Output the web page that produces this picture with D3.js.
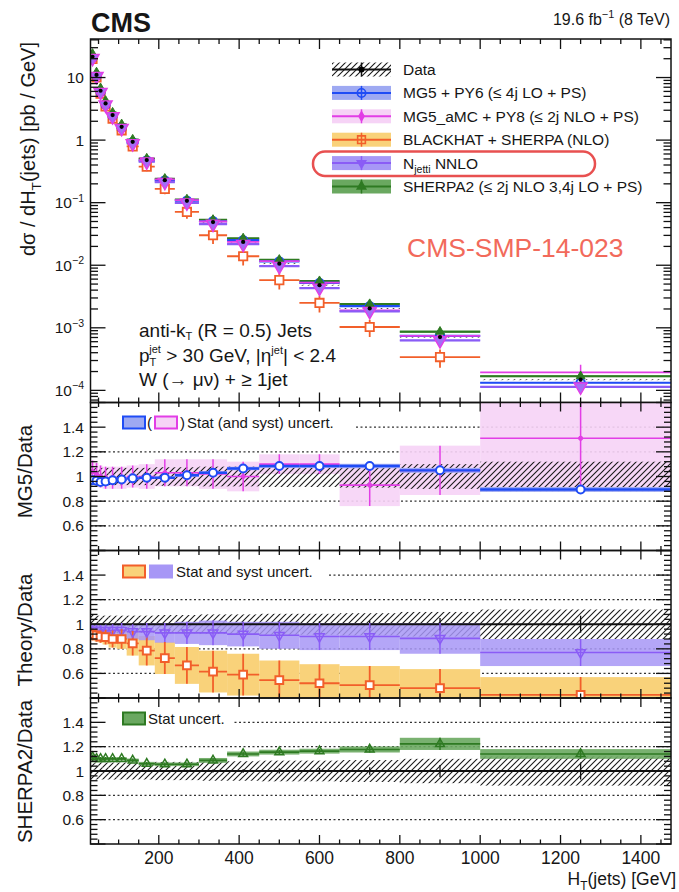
<!DOCTYPE html>
<html>
<head>
<meta charset="utf-8">
<script src="https://cdn.jsdelivr.net/npm/d3@7"></script>
<style>
  body { margin: 0; background: #fff; }
  svg text { font-family: "Liberation Sans", Arial, Helvetica, sans-serif; fill: #161616; }
</style>
</head>
<body>
<svg id="chart" width="679" height="892"></svg>
<script>
// ---- W(->mu nu) + >=1 jet, differential cross section in HT(jets) ----
const binEdges = [30, 40, 50, 60, 75, 95, 120, 150, 190, 240, 300, 370, 450, 550, 650, 800, 1000, 1500];

// measured cross section [pb/GeV] and relative uncertainties
const dataXsec = [21.5, 11.0, 6.15, 3.86, 2.51, 1.63, 0.94, 0.48, 0.229, 0.107, 0.049, 0.0236, 0.0106, 0.0048, 0.00204, 0.00071, 0.000148];
const dataStat = [0.003, 0.003, 0.003, 0.004, 0.004, 0.005, 0.006, 0.007, 0.008, 0.01, 0.012, 0.015, 0.02, 0.025, 0.03, 0.05, 0.07];
const dataSyst = [0.075, 0.07, 0.07, 0.07, 0.07, 0.07, 0.07, 0.07, 0.075, 0.075, 0.08, 0.08, 0.085, 0.085, 0.09, 0.1, 0.12];

// theory / data ratios and their uncertainty half-widths
const mg5Ratio = [0.97, 0.965, 0.955, 0.96, 0.97, 0.975, 0.985, 0.99, 0.99, 1.01, 1.03, 1.065, 1.085, 1.085, 1.085, 1.05, 0.895];
const mg5Unc = [0.01, 0.01, 0.01, 0.01, 0.01, 0.01, 0.01, 0.01, 0.01, 0.012, 0.012, 0.014, 0.015, 0.016, 0.018, 0.02, 0.02];

const amcRatio = [1.04, 1.02, 1.0, 0.99, 0.99, 0.99, 1.0, 1.0, 1.03, 1.03, 1.02, 1.0, 1.1, 1.1, 0.93, 1.05, 1.31];
const amcUnc = [0.09, 0.09, 0.09, 0.09, 0.09, 0.09, 0.09, 0.1, 0.11, 0.11, 0.12, 0.12, 0.08, 0.08, 0.17, 0.2, 0.42];

const blackhatRatio = [0.92, 0.91, 0.9, 0.895, 0.88, 0.88, 0.845, 0.785, 0.725, 0.665, 0.615, 0.59, 0.545, 0.52, 0.505, 0.48, 0.425];
const blackhatUnc = [0.05, 0.05, 0.05, 0.06, 0.07, 0.08, 0.1, 0.12, 0.13, 0.15, 0.17, 0.17, 0.16, 0.155, 0.155, 0.155, 0.145];

const njettiRatio = [0.95, 0.95, 0.95, 0.95, 0.95, 0.95, 0.94, 0.94, 0.93, 0.93, 0.93, 0.92, 0.91, 0.9, 0.9, 0.885, 0.77];
const njettiUnc = [0.05, 0.05, 0.05, 0.05, 0.05, 0.06, 0.06, 0.07, 0.08, 0.09, 0.1, 0.1, 0.11, 0.11, 0.11, 0.125, 0.11];

const sherpaRatio = [1.115, 1.1, 1.1, 1.1, 1.1, 1.1, 1.087, 1.06, 1.055, 1.055, 1.087, 1.14, 1.155, 1.163, 1.177, 1.223, 1.14];
const sherpaUnc = [0.02, 0.015, 0.015, 0.015, 0.015, 0.015, 0.015, 0.015, 0.015, 0.015, 0.02, 0.02, 0.02, 0.02, 0.025, 0.05, 0.04];

// axis ticks and labels
const xTickValues = [200, 400, 600, 800, 1000, 1200, 1400];
const mainTickValues = [10, 1, 0.1, 0.01, 0.001, 0.0001];
const mainTickLabels = ["10", "1", "10^{\u22121}", "10^{\u22122}", "10^{\u22123}", "10^{\u22124}"];
const ratioTickValues = [0.6, 0.8, 1, 1.2, 1.4];
const ratioTickLabels = ["0.6", "0.8", "1", "1.2", "1.4"];
const legendLabels = ["Data", "MG5 + PY6 (\u2264 4j LO + PS)", "MG5_aMC + PY8 (\u2264 2j NLO + PS)",
  "BLACKHAT + SHERPA (NLO)", "N_{jetti} NNLO", "SHERPA2 (\u2264 2j NLO 3,4j LO + PS)"];
const ratioTitles = ["MG5/Data", "Theory/Data", "SHERPA2/Data"];

// ---- styles ----
const C = {
  blue: "#1f4cf5", blueBand: "#9ea9f2",
  mag: "#e23ee6", pinkBand: "#f6d3f6",
  orange: "#f25f2a", yellow: "#f9d27a",
  purple: "#8a5cf6", purpleBand: "#a797f6",
  green: "#2e7a22", greenBand: "#6aa860",
  red: "#e85050", grid: "#333"
};

const svg = d3.select("#chart");
const defs = svg.append("defs");
const hatch = defs.append("pattern").attr("id", "hatch").attr("patternUnits", "userSpaceOnUse")
  .attr("width", 6).attr("height", 6);
hatch.append("path").attr("d", "M-1,1 L1,-1 M0,6 L6,0 M5,7 L7,5")
  .attr("stroke", "#1a1a1a").attr("stroke-width", 1.1);

// ---- layout ----
const L = 90.5, R = 671;
const panels = [
  { top: 39, bottom: 402.5 },
  { top: 402.5, bottom: 550.5 },
  { top: 550.5, bottom: 698 },
  { top: 698, bottom: 844 }
];
const x = d3.scaleLinear().domain([30, 1475]).range([L, R]);
const yMain = d3.scaleLog().domain([6.4e-5, 41.3]).range([panels[0].bottom, panels[0].top]);
const yRatio = panels.slice(1).map(p => d3.scaleLinear().domain([0.4, 1.6]).range([p.bottom, p.top]));

const bins = binEdges.slice(0, -1).map((lo, i) => ({ lo, hi: binEdges[i + 1], c: (lo + binEdges[i + 1]) / 2, i }));
const ones = bins.map(() => 1);

panels.forEach((p, k) => {
  defs.append("clipPath").attr("id", "clip" + k).append("rect")
    .attr("x", L).attr("y", p.top).attr("width", R - L).attr("height", p.bottom - p.top);
});

// text with _{sub} and ^{sup} markup
function rich(sel, s, fs) {
  const re = /([_^])\{([^}]*)\}/g;
  const parts = [];
  let last = 0, m;
  while ((m = re.exec(s))) {
    if (m.index > last) parts.push({ t: s.slice(last, m.index), k: 0 });
    parts.push({ t: m[2], k: m[1] === "_" ? 1 : -1 });
    last = re.lastIndex;
  }
  if (last < s.length) parts.push({ t: s.slice(last), k: 0 });
  let shift = 0;
  parts.forEach(p => {
    const target = p.k === 0 ? 0 : (p.k === 1 ? 0.3 * fs : -0.42 * fs);
    const ts = sel.append("tspan").text(p.t).attr("dy", target - shift);
    if (p.k) ts.attr("font-size", fs * 0.68);
    shift = target;
  });
  return sel;
}
function label(g, xp, yp, s, fs, opts = {}) {
  const t = g.append("text").attr("x", xp).attr("y", yp).attr("font-size", fs)
    .attr("text-anchor", opts.anchor || "start");
  if (opts.weight) t.attr("font-weight", opts.weight);
  if (opts.fill) t.style("fill", opts.fill);
  if (opts.rotate) t.attr("transform", `rotate(${opts.rotate},${xp},${yp})`);
  return rich(t, s, fs);
}

// ---- drawing primitives ----
function rows(norm, ratio, unc) {
  return bins.map((b, i) => ({
    b, v: norm[i] * ratio[i],
    lo: norm[i] * Math.max(ratio[i] - unc[i], 1e-3),
    hi: norm[i] * (ratio[i] + unc[i])
  }));
}
// points whose central value lies outside the axis range are not drawn
function inRange(y, rs) {
  const [a, b] = d3.extent(y.domain());
  return rs.filter(d => d.v >= a && d.v <= b);
}
function band(g, y, rs, fill, opacity = 1) {
  g.append("g").selectAll("rect").data(rs).join("rect")
    .attr("x", d => x(d.b.lo)).attr("width", d => x(d.b.hi) - x(d.b.lo))
    .attr("y", d => y(d.hi)).attr("height", d => Math.max(0.8, y(d.lo) - y(d.hi)))
    .attr("fill", fill).attr("fill-opacity", opacity);
}
function hlines(g, y, rs, color, w) {
  g.append("g").selectAll("line").data(inRange(y, rs)).join("line")
    .attr("x1", d => x(d.b.lo)).attr("x2", d => x(d.b.hi))
    .attr("y1", d => y(d.v)).attr("y2", d => y(d.v))
    .attr("stroke", color).attr("stroke-width", w);
}
function vbars(g, y, rs, color, w) {
  g.append("g").selectAll("line").data(inRange(y, rs)).join("line")
    .attr("x1", d => x(d.b.c)).attr("x2", d => x(d.b.c))
    .attr("y1", d => y(d.lo)).attr("y2", d => y(d.hi))
    .attr("stroke", color).attr("stroke-width", w);
}
function markers(g, y, rs, type, size, fill, stroke, sw, rot = 0) {
  const sym = d3.symbol().type(type).size(size);
  g.append("g").selectAll("path").data(inRange(y, rs)).join("path")
    .attr("d", sym)
    .attr("transform", d => `translate(${x(d.b.c)},${y(d.v)}) rotate(${rot})`)
    .attr("fill", fill).attr("stroke", stroke).attr("stroke-width", sw);
}

// ---- ROOT-style frame and ticks ----
function xTicks(g, p, major, minor) {
  d3.range(50, 1475, 50).forEach(v => {
    const len = v % 200 === 0 ? major : minor;
    g.append("line").attr("x1", x(v)).attr("x2", x(v)).attr("y1", p.bottom).attr("y2", p.bottom - len);
    g.append("line").attr("x1", x(v)).attr("x2", x(v)).attr("y1", p.top).attr("y2", p.top + len);
  });
  g.selectAll("line").attr("stroke", "#111").attr("stroke-width", 1.3);
}
function yTicksAt(g, vals, y, majorTest, major, minor) {
  vals.forEach(v => {
    const len = majorTest(v) ? major : minor;
    const yy = y(v);
    g.append("line").attr("x1", L).attr("x2", L + len).attr("y1", yy).attr("y2", yy);
    g.append("line").attr("x1", R).attr("x2", R - len).attr("y1", yy).attr("y2", yy);
  });
  g.selectAll("line").attr("stroke", "#111").attr("stroke-width", 1.3);
}

// ========== main panel ==========
const main = svg.append("g");
const mc = main.append("g").attr("clip-path", "url(#clip0)");
const rData = rows(dataXsec, ones, dataSyst);
const rDataStat = rows(dataXsec, ones, dataStat);
const rMg5 = rows(dataXsec, mg5Ratio, mg5Unc);
const rAmc = rows(dataXsec, amcRatio, amcUnc);
const rBh = rows(dataXsec, blackhatRatio, blackhatUnc);
const rNj = rows(dataXsec, njettiRatio, njettiUnc);
const rSh = rows(dataXsec, sherpaRatio, sherpaUnc);

band(mc, yMain, rSh, C.greenBand);
band(mc, yMain, rAmc.map(d => ({ ...d, lo: d.v * 0.985, hi: d.v * 1.015 })), C.pinkBand);
band(mc, yMain, rMg5, C.blueBand);
band(mc, yMain, rNj.map(d => ({ ...d, lo: d.v * 0.975, hi: d.v * 1.025 })), C.purpleBand);
band(mc, yMain, rData.map(d => ({ ...d, lo: d.v * 0.985, hi: d.v * 1.015 })), "url(#hatch)");
hlines(mc, yMain, rSh, C.green, 2);
hlines(mc, yMain, rMg5, C.blue, 2.2);
hlines(mc, yMain, rAmc, C.mag, 1.8);
hlines(mc, yMain, rNj, C.purple, 2.2);
hlines(mc, yMain, rBh, C.orange, 1.8);
vbars(mc, yMain, rBh, C.orange, 1.8);
vbars(mc, yMain, rAmc, C.mag, 1.5);
vbars(mc, yMain, rNj, C.purple, 1.5);
vbars(mc, yMain, rSh, C.green, 1.5);
markers(mc, yMain, rBh, d3.symbolSquare, 70, "#fff", C.orange, 1.8);
markers(mc, yMain, rMg5, d3.symbolCircle, 55, "none", C.blue, 2);
markers(mc, yMain, rSh, d3.symbolTriangle, 34, C.green, C.green, 1);
markers(mc, yMain, rNj, d3.symbolTriangle, 75, "#a46cf6", C.mag, 1.4, 180);
markers(mc, yMain, rDataStat, d3.symbolCircle, 14, "#000", "#000", 0);

// legend
const legX0 = 332, legX1 = 391, legY0 = 69.5, legDy = 23.4;
const legStyles = [
  { fill: "url(#hatch)", line: "#111", mk: d3.symbolCircle, ms: 16, mf: "#000", mst: "#000", rot: 0 },
  { fill: C.blueBand, line: C.blue, mk: d3.symbolCircle, ms: 55, mf: "none", mst: C.blue, rot: 0 },
  { fill: C.pinkBand, line: C.mag, mk: d3.symbolDiamond, ms: 22, mf: C.mag, mst: C.mag, rot: 0 },
  { fill: C.yellow, line: C.orange, mk: d3.symbolSquare, ms: 60, mf: "none", mst: C.orange, rot: 0 },
  { fill: C.purpleBand, line: C.purple, mk: d3.symbolTriangle, ms: 30, mf: C.purple, mst: C.purple, rot: 180 },
  { fill: C.greenBand, line: C.green, mk: d3.symbolTriangle, ms: 30, mf: C.green, mst: C.green, rot: 0 }
];
const leg = main.append("g");
legendLabels.forEach((lab, i) => {
  const yy = legY0 + i * legDy, st = legStyles[i];
  const xc = (legX0 + legX1) / 2;
  leg.append("rect").attr("x", legX0).attr("y", yy - 7).attr("width", legX1 - legX0).attr("height", 14)
    .attr("fill", st.fill);
  leg.append("line").attr("x1", legX0).attr("x2", legX1).attr("y1", yy).attr("y2", yy)
    .attr("stroke", st.line).attr("stroke-width", 2);
  leg.append("line").attr("x1", xc).attr("x2", xc).attr("y1", yy - 7).attr("y2", yy + 7)
    .attr("stroke", st.line).attr("stroke-width", 1.5);
  leg.append("path").attr("d", d3.symbol().type(st.mk).size(st.ms)())
    .attr("transform", `translate(${xc},${yy}) rotate(${st.rot})`)
    .attr("fill", st.mf).attr("stroke", st.mst).attr("stroke-width", 1.6);
  label(leg, 403, yy + 5.5, lab, 15.5);
});
// highlight ring around the N_jetti entry
leg.append("rect").attr("x", 313).attr("y", 151.5).attr("width", 282).attr("height", 24.5)
  .attr("rx", 12).attr("fill", "none").attr("stroke", C.red).attr("stroke-width", 2.5);

label(main, 407, 257, "CMS-SMP-14-023", 26.5, { fill: "#f26a5b" });

// jet selection summary
{
  const fs = 19;
  const t1 = main.append("text").attr("x", 139).attr("y", 336.5).attr("font-size", fs);
  t1.append("tspan").text("anti-k");
  t1.append("tspan").text("T").attr("font-size", 11).attr("dy", 3);
  t1.append("tspan").text(" (R = 0.5) Jets").attr("dy", -3);

  const t2 = main.append("text").attr("x", 139).attr("y", 361.5).attr("font-size", fs);
  t2.append("tspan").text("p");
  t2.append("tspan").text("T").attr("font-size", 11).attr("dy", 4);
  t2.append("tspan").text("jet").attr("font-size", 11).attr("dx", -7).attr("dy", -12.5);
  t2.append("tspan").text(" > 30 GeV, |\u03b7").attr("dy", 8.5);
  t2.append("tspan").text("jet").attr("font-size", 11).attr("dy", -7.5);
  t2.append("tspan").text("| < 2.4").attr("dy", 7.5);

  label(main, 139, 385.5, "W (\u2192 \u03bc\u03bd) + \u2265 1jet", fs);
}

// main axes
xTicks(main.append("g"), panels[0], 10, 5);
const logVals = [];
for (let k = -5; k <= 1; k++) for (let m = 1; m <= 9; m++) {
  const v = m * Math.pow(10, k);
  if (v >= yMain.domain()[0] && v <= yMain.domain()[1]) logVals.push(v);
}
yTicksAt(main.append("g"), logVals, yMain, v => Math.abs(Math.log10(v) - Math.round(Math.log10(v))) < 1e-9, 15, 7.5);
mainTickValues.forEach((v, i) => label(main, 84, yMain(v) + 5.5, mainTickLabels[i], 15.5, { anchor: "end" }));
main.append("rect").attr("x", L).attr("y", panels[0].top).attr("width", R - L)
  .attr("height", panels[0].bottom - panels[0].top).attr("fill", "none").attr("stroke", "#111").attr("stroke-width", 1.5);
label(main, 35, 42, "d\u03c3 / dH_{T}(jets)  [pb / GeV]", 20, { anchor: "end", rotate: -90 });

label(svg, 91, 31.5, "CMS", 27, { weight: "bold" });
label(svg, 670, 25, "19.6 fb^{\u22121} (8 TeV)", 16, { anchor: "end" });

// ========== ratio panels ==========
function grid(k) {
  const y = yRatio[k - 1];
  const g = svg.append("g");
  [0.6, 0.8, 1.2, 1.4].forEach(v => {
    g.append("line").attr("x1", L).attr("x2", R).attr("y1", y(v)).attr("y2", y(v))
      .attr("stroke", C.grid).attr("stroke-width", 1.2).attr("stroke-dasharray", "2,2.5");
  });
}
function ratioAxes(k) {
  const p = panels[k], y = yRatio[k - 1];
  const g = svg.append("g");
  xTicks(g.append("g"), p, 9, 4.5);
  const vals = d3.range(0, 31).map(i => +(0.4 + i * 0.04).toFixed(2));
  yTicksAt(g.append("g"), vals, y, v => Math.abs(v * 5 - Math.round(v * 5)) < 1e-6, 15, 7);
  ratioTickValues.forEach((v, i) => label(g, 84, y(v) + 5.5, ratioTickLabels[i], 15.5, { anchor: "end" }));
  g.append("rect").attr("x", L).attr("y", p.top).attr("width", R - L).attr("height", p.bottom - p.top)
    .attr("fill", "none").attr("stroke", "#111").attr("stroke-width", 1.5);
  const cy = [471.5, 630, 771.5][k - 1];
  label(g, 32, cy, ratioTitles[k - 1], 20.5, { anchor: "middle", rotate: -90 });
}

// --- panel 1: MG5 / data ---
{
  const k = 1, y = yRatio[0];
  grid(k);
  const g = svg.append("g").attr("clip-path", "url(#clip1)");
  const dR = rows(ones, ones, dataSyst);
  const aR = rows(ones, amcRatio, amcUnc), mR = rows(ones, mg5Ratio, mg5Unc);
  band(g, y, aR, C.pinkBand, 0.9);
  band(g, y, dR, "url(#hatch)");
  band(g, y, mR, C.blueBand);
  hlines(g, y, aR, C.mag, 1.6);
  vbars(g, y, aR, C.mag, 1.5);
  hlines(g, y, mR, C.blue, 2.4);
  vbars(g, y, mR, C.blue, 1.5);
  markers(g, y, aR, d3.symbolCircle, 14, C.mag, C.mag, 1);
  markers(g, y, mR, d3.symbolCircle, 50, "#fff", C.blue, 2);
  const lg = svg.append("g");
  lg.append("rect").attr("x", 92).attr("y", 414).attr("width", 262).attr("height", 17).attr("fill", "#fff");
  lg.append("rect").attr("x", 123).attr("y", 416.5).attr("width", 22).attr("height", 12)
    .attr("fill", C.blueBand).attr("stroke", C.blue).attr("stroke-width", 2);
  label(lg, 147, 428, "(", 15);
  lg.append("rect").attr("x", 155).attr("y", 416.5).attr("width", 22).attr("height", 12)
    .attr("fill", C.pinkBand).attr("stroke", C.mag).attr("stroke-width", 2);
  label(lg, 180, 428, ")", 15);
  label(lg, 187, 428, "Stat (and syst) uncert.", 15);
  ratioAxes(k);
}

// --- panel 2: fixed-order theory / data ---
{
  const k = 2, y = yRatio[1];
  grid(k);
  const g = svg.append("g").attr("clip-path", "url(#clip2)");
  const dR = rows(ones, ones, dataSyst), dS = rows(ones, ones, dataStat);
  const bR = rows(ones, blackhatRatio, blackhatUnc), nR = rows(ones, njettiRatio, njettiUnc);
  band(g, y, bR, C.yellow);
  band(g, y, dR, "url(#hatch)");
  band(g, y, nR, C.purpleBand, 0.85);
  g.append("line").attr("x1", L).attr("x2", R).attr("y1", y(1)).attr("y2", y(1))
    .attr("stroke", "#111").attr("stroke-width", 2);
  vbars(g, y, dS, "#111", 1.3);
  hlines(g, y, nR, C.purple, 1.6);
  vbars(g, y, nR, C.purple, 1.5);
  hlines(g, y, bR, C.orange, 1.8);
  vbars(g, y, bR, C.orange, 1.8);
  markers(g, y, nR, d3.symbolTriangle, 40, "none", C.purple, 1.5, 180);
  markers(g, y, bR, d3.symbolSquare, 60, "#fff", C.orange, 2);
  const lg = svg.append("g");
  lg.append("rect").attr("x", 92).attr("y", 563).attr("width", 235).attr("height", 17).attr("fill", "#fff");
  lg.append("rect").attr("x", 123).attr("y", 565.5).attr("width", 22).attr("height", 12)
    .attr("fill", C.yellow).attr("stroke", C.orange).attr("stroke-width", 2);
  lg.append("rect").attr("x", 150).attr("y", 565.5).attr("width", 22).attr("height", 12)
    .attr("fill", C.purpleBand).attr("stroke", C.purpleBand).attr("stroke-width", 2);
  label(lg, 176, 577, "Stat and syst uncert.", 15);
  ratioAxes(k);
}

// --- panel 3: SHERPA2 / data ---
{
  const k = 3, y = yRatio[2];
  grid(k);
  const g = svg.append("g").attr("clip-path", "url(#clip3)");
  const dR = rows(ones, ones, dataSyst), dS = rows(ones, ones, dataStat);
  const sR = rows(ones, sherpaRatio, sherpaUnc);
  band(g, y, dR, "url(#hatch)");
  g.append("line").attr("x1", L).attr("x2", R).attr("y1", y(1)).attr("y2", y(1))
    .attr("stroke", "#111").attr("stroke-width", 2);
  vbars(g, y, dS, "#111", 1.3);
  band(g, y, sR, C.greenBand, 0.9);
  hlines(g, y, sR, C.green, 1.6);
  vbars(g, y, sR, C.green, 1.4);
  markers(g, y, sR, d3.symbolTriangle, 34, "none", C.green, 1.5);
  const lg = svg.append("g");
  lg.append("rect").attr("x", 92).attr("y", 710).attr("width", 140).attr("height", 17).attr("fill", "#fff");
  lg.append("rect").attr("x", 123).attr("y", 712.5).attr("width", 22).attr("height", 12)
    .attr("fill", C.greenBand).attr("stroke", C.green).attr("stroke-width", 2);
  label(lg, 148, 724, "Stat uncert.", 15);
  ratioAxes(k);

  // x axis labels on the bottom panel
  const p = panels[3];
  xTickValues.forEach(v => label(svg, x(v), p.bottom + 20, String(v), 17.5, { anchor: "middle" }));
  label(svg, 676, 885, "H_{T}(jets) [GeV]", 17.5, { anchor: "end" });
}
</script>
</body>
</html>
